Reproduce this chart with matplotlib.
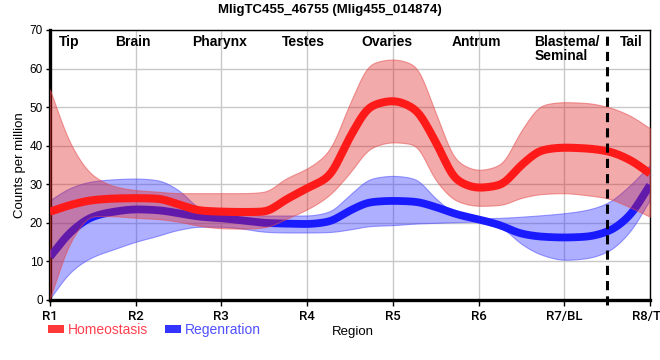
import numpy as np
import matplotlib
matplotlib.use("Agg")
import matplotlib.pyplot as plt
from matplotlib.patches import Patch

plt.rcParams['font.family'] = ['Liberation Sans', 'DejaVu Sans']

# ---------------- data ----------------
title = "MligTC455_46755 (Mlig455_014874)"
tick_labels = ["R1", "R2", "R3", "R4", "R5", "R6", "R7/BL", "R8/TL"]
region_names = ["Tip", "Brain", "Pharynx", "Testes", "Ovaries", "Antrum", "Blastema/\nSeminal", "Tail"]
series_names = ["Homeostasis", "Regenration"]

# sample positions (in region-index units, R1 = 0 ... R8 = 7)
pos = [0, .25, .5, .75, 1, 1.25, 1.5, 1.75, 2, 2.25, 2.5, 2.75, 3, 3.25, 3.5,
       3.75, 4, 4.25, 4.5, 4.75, 5, 5.25, 5.5, 5.75, 6, 6.25, 6.5, 6.75, 7]

homeo_mean = [22.9, 24.7, 25.9, 26.3, 26.4, 26.3, 24.8, 23.2, 22.9, 22.8, 22.9, 26.0, 29.0, 32.0, 42.3,
              50.3, 51.6, 49.6, 41.0, 31.0, 29.1, 29.8, 35.0, 38.9, 39.5, 39.3, 38.6, 36.5, 32.8]
homeo_upper = [54.5, 40.0, 32.3, 29.5, 28.5, 28.1, 27.7, 27.7, 27.7, 27.7, 28.0, 31.5, 34.1, 38.5, 51.0,
               61.3, 62.4, 60.9, 48.5, 36.0, 33.7, 35.0, 44.0, 50.6, 51.3, 51.1, 50.1, 48.0, 44.5]
homeo_lower = [0.4, 15.5, 21.8, 21.7, 21.3, 21.0, 20.3, 19.2, 18.6, 18.5, 18.8, 21.0, 23.5, 27.0, 33.0,
               39.5, 40.9, 40.3, 31.0, 25.6, 24.4, 24.6, 26.5, 27.5, 27.7, 27.2, 26.4, 24.2, 21.6]

regen_mean = [11.2, 17.8, 21.6, 22.9, 23.5, 23.3, 22.5, 21.6, 21.2, 20.6, 20.0, 19.8, 19.7, 20.3, 23.2,
              25.4, 25.7, 25.5, 24.1, 22.2, 20.9, 19.4, 17.2, 16.4, 16.2, 16.4, 17.7, 21.6, 29.8]
regen_upper = [25.9, 29.2, 30.8, 31.3, 31.5, 31.1, 28.5, 23.8, 22.9, 22.3, 21.9, 21.9, 21.9, 22.8, 27.3,
               31.5, 32.2, 31.5, 26.3, 22.3, 21.2, 21.3, 21.6, 22.0, 22.5, 23.3, 25.1, 29.4, 35.0]
regen_lower = [0.4, 7.5, 11.2, 13.2, 15.1, 16.6, 18.2, 19.0, 19.0, 18.5, 17.7, 17.5, 17.5, 17.6, 18.3,
               19.2, 19.4, 19.8, 20.0, 20.2, 20.3, 19.0, 14.5, 11.6, 10.4, 10.8, 12.5, 17.3, 26.0]

# ---------------- helpers ----------------
def smooth(x, y, n=701, sigma=5):
    """Monotone cubic (Fritsch-Carlson) curve through the points, lightly softened for drawing."""
    x = np.asarray(x, float); y = np.asarray(y, float)
    h = np.diff(x); d = np.diff(y) / h
    m = np.zeros_like(y)
    m[0], m[-1] = d[0], d[-1]
    for i in range(1, len(y) - 1):
        if d[i - 1] * d[i] <= 0:
            m[i] = 0
        else:
            w1 = 2 * h[i] + h[i - 1]; w2 = h[i] + 2 * h[i - 1]
            m[i] = (w1 + w2) / (w1 / d[i - 1] + w2 / d[i])
    xs = np.linspace(x[0], x[-1], n)
    idx = np.clip(np.searchsorted(x, xs) - 1, 0, len(x) - 2)
    t = (xs - x[idx]) / h[idx]
    h00 = 2 * t**3 - 3 * t**2 + 1; h10 = t**3 - 2 * t**2 + t
    h01 = -2 * t**3 + 3 * t**2; h11 = t**3 - t**2
    ys = h00 * y[idx] + h10 * h[idx] * m[idx] + h01 * y[idx + 1] + h11 * h[idx] * m[idx + 1]
    # gentle gaussian softening with odd reflection at the ends (keeps end values)
    k = np.arange(-4 * sigma, 4 * sigma + 1)
    g = np.exp(-0.5 * (k / sigma) ** 2); g /= g.sum()
    p = len(k) // 2
    left = 2 * ys[0] - ys[1:p + 1][::-1]
    right = 2 * ys[-1] - ys[-p - 1:-1][::-1]
    ys = np.convolve(np.concatenate([left, ys, right]), g, mode='valid')
    return xs, ys

# ---------------- figure ----------------
W, H = 660, 360
fig = plt.figure(figsize=(W / 100, H / 100), dpi=100)
ax = fig.add_axes([50 / W, 1 - 300 / H, 600 / W, 270 / H])

red = '#ff1a1a'
blue = '#1a1aff'

# blue band and line first, red on top (as in reference)
xs, lo = smooth(pos, regen_lower); _, hi = smooth(pos, regen_upper)
ax.fill_between(xs, lo, hi, facecolor=(0.22, 0.22, 1.0, 0.4), edgecolor=(0.3, 0.3, 1.0, 0.55), lw=0.8, zorder=2)
xs, m = smooth(pos, regen_mean)
ax.plot(xs, m, color=blue, lw=5.6, solid_capstyle='butt', zorder=3)

xs, lo = smooth(pos, homeo_lower); _, hi = smooth(pos, homeo_upper)
ax.fill_between(xs, lo, hi, facecolor=(0.88, 0.1, 0.1, 0.37), edgecolor=(0.9, 0.3, 0.3, 0.55), lw=0.8, zorder=4)
xs, m = smooth(pos, homeo_mean)
ax.plot(xs, m, color=red, lw=5.8, solid_capstyle='butt', zorder=5)

# divider between R7 and R8
ax.axvline(6.5, ymin=-0.02, ymax=1, color='black', lw=2.2, ls=(0, (3, 2)), zorder=6, clip_on=False)

ax.set_xlim(0, 7)
ax.set_ylim(0, 70)
ax.set_xticks(range(len(tick_labels)))
ax.set_xticklabels(tick_labels, fontsize=9.5, family=['Roboto', 'DejaVu Sans'], fontweight='medium')
ax.set_yticks(range(0, 71, 10))
ax.tick_params(axis='y', labelsize=8.5, length=3, width=1, pad=2)
ax.tick_params(axis='x', length=4, width=1, pad=3)
ax.grid(True, color='#c8c8c8', lw=1)
ax.set_axisbelow(True)

for s in ['left', 'bottom']:
    ax.spines[s].set_linewidth(2.4)
for s in ['top', 'right']:
    ax.spines[s].set_linewidth(1.0)

# region labels at top
label_pos = [0.22, 0.97, 1.98, 2.96, 3.93, 4.98, 5.65, 6.78]
for name, p in zip(region_names, label_pos):
    ha = 'left' if '\n' in name else 'center'
    ax.text(p, 68.8, name, ha=ha, va='top', fontsize=10, fontweight='bold', linespacing=1.0, zorder=7)

fig.text(330 / W, 1 - 10 / H, title, ha='center', va='center', fontsize=9.5, fontweight='bold')
fig.text(20 / W, 1 - 165 / H, "Counts per million", rotation=90, ha='center', va='center', fontsize=9.5)
fig.text(332 / W, 1 - 332 / H, "Region", ha='left', va='center', fontsize=9.5)

handles = [Patch(facecolor='#ff3838', edgecolor='none'), Patch(facecolor='#3434ff', edgecolor='none')]
fig.legend(handles, series_names, loc='center left', bbox_to_anchor=(48 / W, 1 - 330 / H), ncol=2,
           frameon=False, fontsize=10, handlelength=1.15, handleheight=0.55, handletextpad=0.3,
           columnspacing=1.2, labelcolor=['#ff4050', '#5050ff'], borderpad=0, borderaxespad=0)

fig.savefig('out.png', dpi=100)
